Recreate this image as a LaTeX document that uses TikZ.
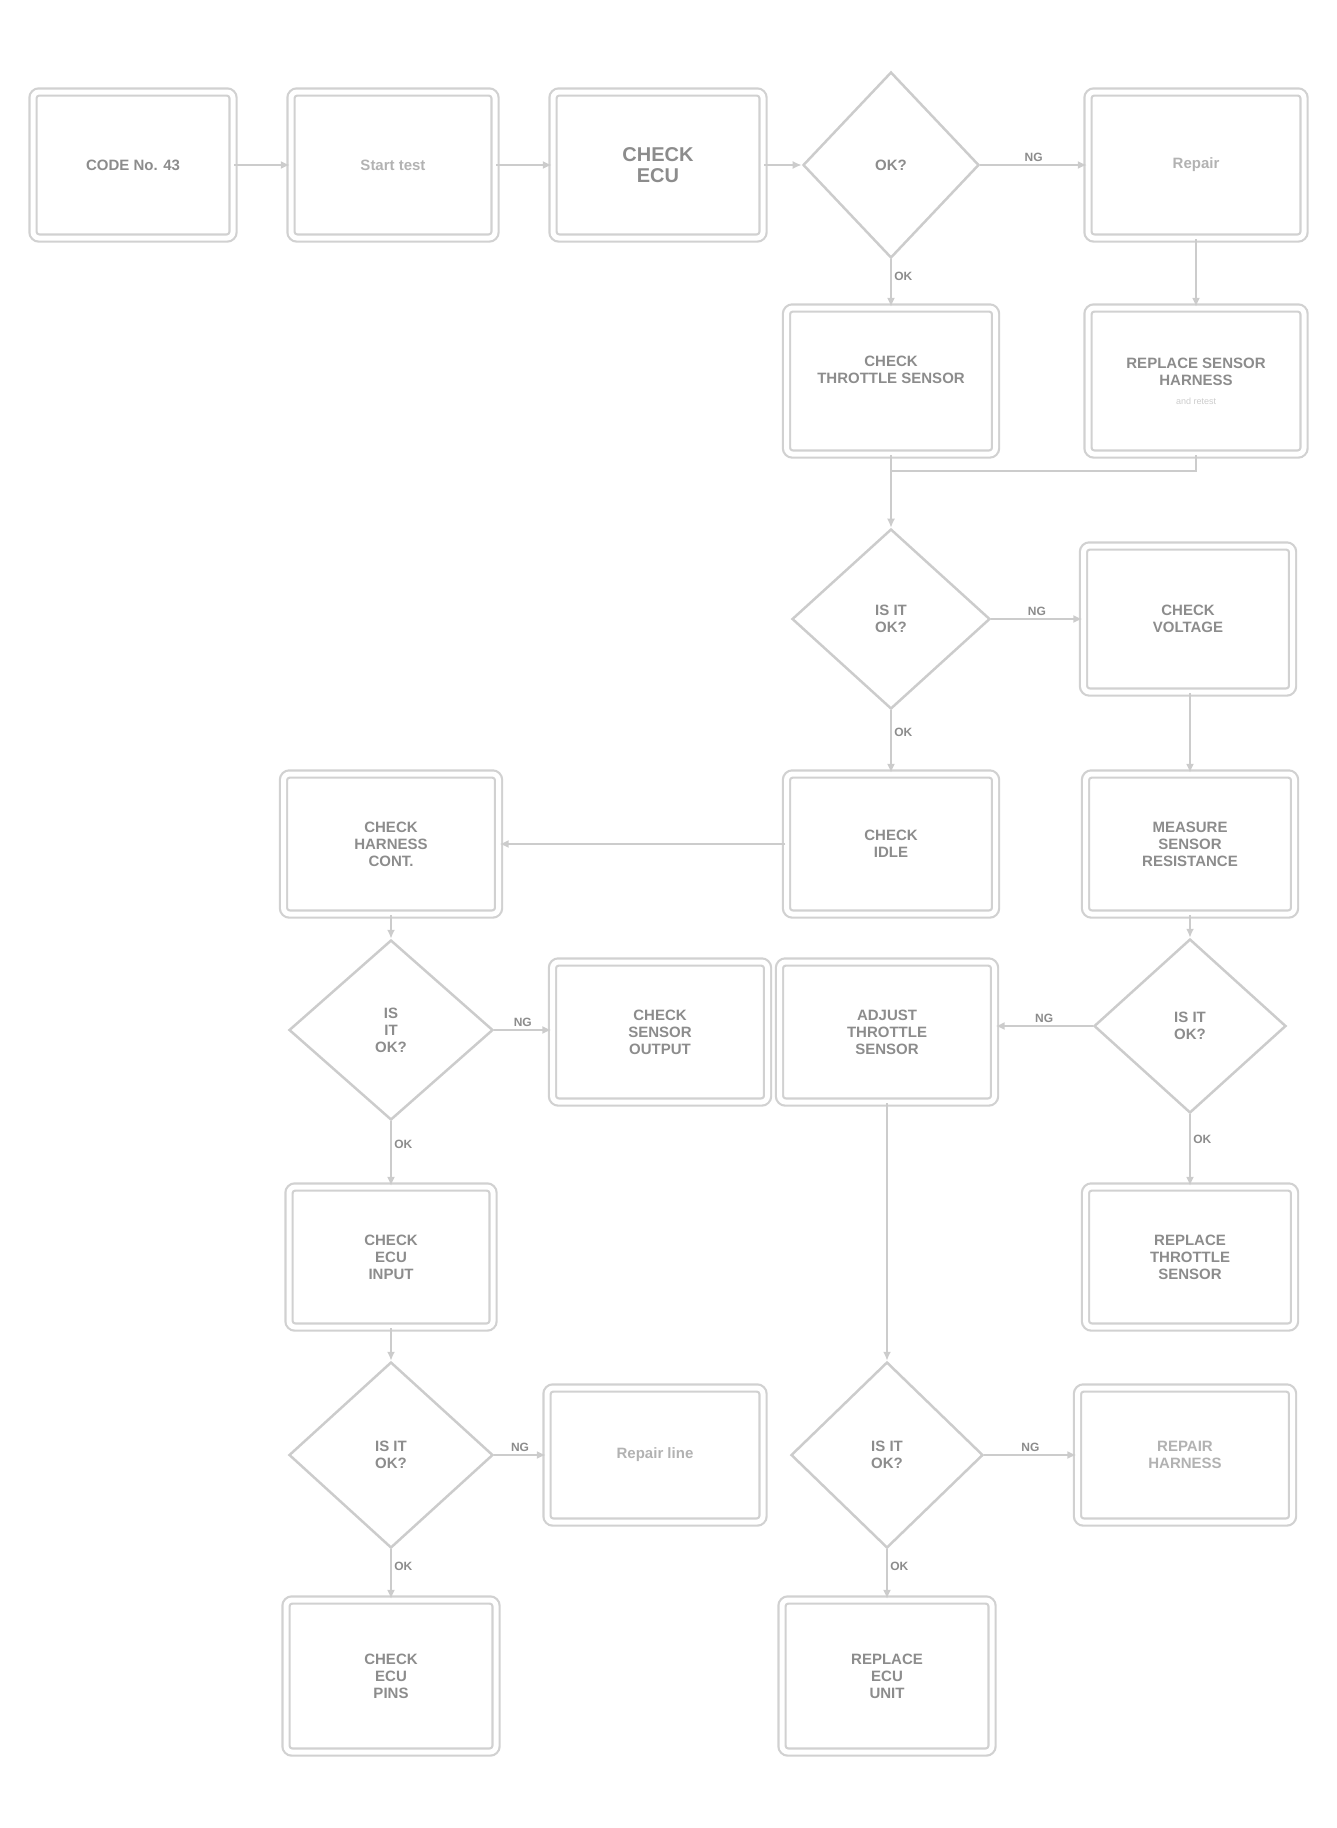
\documentclass[tikz,border=0pt]{standalone}
\usepackage{fontspec}
\setmainfont{Liberation Sans}
\usetikzlibrary{shapes.geometric,arrows.meta}
\begin{document}
\begin{tikzpicture}[x=1pt,y=-1pt,
  every node/.style={font=\bfseries\fontsize{15}{17}\selectfont, text=black!45, align=center},
  box/.style={draw=black!18, line width=2.2pt, double=white, double distance=5pt, rounded corners=6pt, minimum width=#1, minimum height=140pt, inner sep=4pt},
  box/.default=210pt,
  dia/.style={draw=black!20, line width=2.5pt, diamond, minimum width=196pt, minimum height=184pt, inner sep=0pt},
  lbl/.style={font=\bfseries\fontsize{12}{13}\selectfont, text=black!45, inner sep=2pt},
  con/.style={draw=black!20, line width=2.5pt, -{Latex[length=9pt,width=8pt]}},
  ln/.style={draw=black!20, line width=2.5pt}]
\useasboundingbox (0,0) rectangle (1336,1828);
% row 1
\node[box=200pt, minimum height=146pt] (start) at (133,165) {CODE No. 43};
\node[box=204pt, minimum height=146pt, text=black!30] (b2) at (393,165) {Start test};
\node[box=210pt, minimum height=146pt, font=\bfseries\fontsize{20}{21}\selectfont] (b3) at (658,165) {CHECK\\ECU};
\node[dia, minimum width=176pt, minimum height=186pt] (d1) at (891,165) {OK?};
\node[box=216pt, minimum height=146pt, text=black!30] (b4) at (1196,165) {Repair};
% row 2
\node[box=209pt, minimum height=146pt] (b5) at (891,381) {CHECK\\THROTTLE SENSOR\\[6pt]};
\node[box=216pt, minimum height=146pt] (b6) at (1196,381) {REPLACE SENSOR\\HARNESS\\[2pt]\mdseries\small \textcolor{black!20}{and retest}};
\coordinate (j1) at (891,471);
% row 3
\node[dia, minimum width=198pt, minimum height=180pt] (d2) at (891,619) {IS IT\\OK?};
\node[box=209pt, minimum height=146pt] (b7) at (1188,619) {CHECK\\VOLTAGE};
% row 4
\node[box=215pt] (b8) at (391,844) {CHECK\\HARNESS\\CONT.};
\node[box=209pt] (b9) at (891,844) {CHECK\\IDLE};
\node[box=209pt] (b10) at (1190,844) {MEASURE\\SENSOR\\RESISTANCE};
% row 5
\node[dia, minimum width=204pt, minimum height=180pt] (d3) at (391,1030) {IS\\IT\\OK?};
\node[box=215pt] (b11) at (660,1032) {CHECK\\SENSOR\\OUTPUT};
\node[box=215pt] (b12) at (887,1032) {ADJUST\\THROTTLE\\SENSOR};
\node[dia, minimum width=192pt, minimum height=174pt] (d4) at (1190,1026) {IS IT\\OK?};
% row 6
\node[box=204pt] (b13) at (391,1257) {CHECK\\ECU\\INPUT};
\node[box=209pt] (b14) at (1190,1257) {REPLACE\\THROTTLE\\SENSOR};
% row 7
\node[dia, minimum width=204pt, minimum height=186pt] (d5) at (391,1455) {IS IT\\OK?};
\node[box=216pt, minimum height=134pt, text=black!30] (b15) at (655,1455) {Repair line};
\node[dia, minimum width=192pt, minimum height=186pt] (d6) at (887,1455) {IS IT\\OK?};
\node[box=215pt, minimum height=134pt, text=black!30] (b16) at (1185,1455) {REPAIR\\HARNESS};
% row 8
\node[box=210pt, minimum height=152pt] (b17) at (391,1676) {CHECK\\ECU\\PINS};
\node[box=210pt, minimum height=152pt] (b18) at (887,1676) {REPLACE\\ECU\\UNIT};
% connectors
\draw[con] (start) -- (b2);
\draw[con] (b2) -- (b3);
\draw[con] (b3) -- (d1);
\draw[con] (d1) -- node[lbl, above] {NG} (b4);
\draw[con] (d1) -- node[lbl, right, pos=0.35] {OK} (b5);
\draw[con] (b4) -- (b6);
\draw[ln] (b6.south) |- (j1);
\draw[con] (b5) -- (d2);
\draw[con] (d2) -- node[lbl, above] {NG} (b7);
\draw[con] (d2) -- node[lbl, right, pos=0.35] {OK} (b9);
\draw[con] (b7.south -| b10) -- (b10);
\draw[con] (b9) -- (b8);
\draw[con] (b8) -- (d3);
\draw[con] (d3.east) -- node[lbl, above] {NG} (d3.east -| b11.west);
\draw[con] (d4.west) -- node[lbl, above] {NG} (d4.west -| b12.east);
\draw[con] (b10) -- (d4);
\draw[con] (d3) -- node[lbl, right, pos=0.35] {OK} (b13);
\draw[con] (d4) -- node[lbl, right, pos=0.35] {OK} (b14);
\draw[con] (b13) -- (d5);
\draw[con] (b12) -- (d6);
\draw[con] (d5) -- node[lbl, above] {NG} (b15);
\draw[con] (d6) -- node[lbl, above] {NG} (b16);
\draw[con] (d5) -- node[lbl, right, pos=0.35] {OK} (b17);
\draw[con] (d6) -- node[lbl, right, pos=0.35] {OK} (b18);
\end{tikzpicture}
\end{document}
